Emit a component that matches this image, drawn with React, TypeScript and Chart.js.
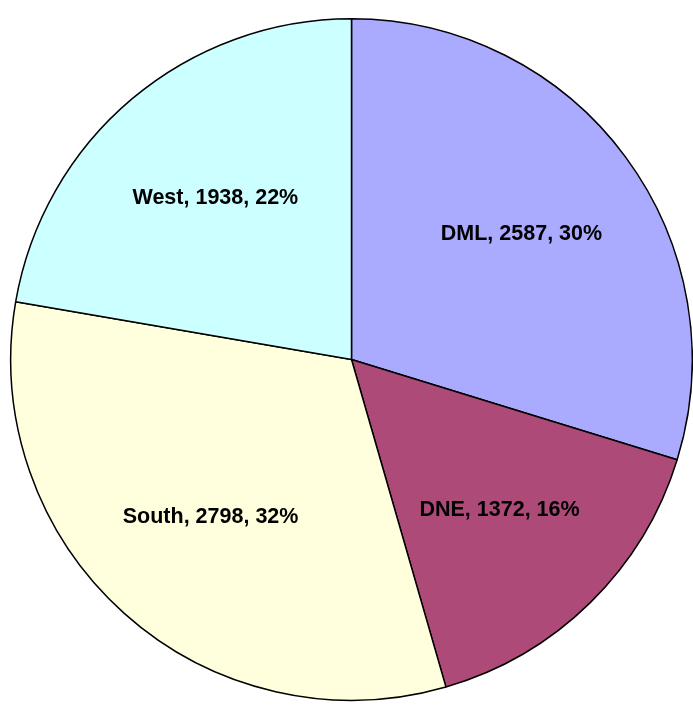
import React, { useEffect, useRef } from "react";
import { Chart, registerables } from "chart.js";

Chart.register(...registerables);

const categories = ["DML", "DNE", "South", "West"];
const values = [2587, 1372, 2798, 1938];
const percentLabels = ["30%", "16%", "32%", "22%"];
const colors = ["#AAAAFF", "#AD4A78", "#FFFFDD", "#CCFFFF"];

const labelPlugin = {
  id: "sliceLabels",
  afterDatasetsDraw(chart: any) {
    const ctx = chart.ctx;
    const meta = chart.getDatasetMeta(0);
    ctx.save();
    ctx.font = "bold 21.5px 'Liberation Sans', Arial, sans-serif";
    ctx.fillStyle = "#000000";
    ctx.textAlign = "center";
    ctx.textBaseline = "middle";
    meta.data.forEach((arc: any, i: number) => {
      const { x, y, startAngle, endAngle, outerRadius } = arc.getProps(
        ["x", "y", "startAngle", "endAngle", "outerRadius"],
        true
      );
      const mid = (startAngle + endAngle) / 2;
      const r = outerRadius * 0.62;
      const text = `${categories[i]}, ${values[i]}, ${percentLabels[i]}`;
      ctx.fillText(text, x + Math.cos(mid) * r, y + Math.sin(mid) * r);
    });
    ctx.restore();
  },
};

export default function App() {
  const ref = useRef<HTMLCanvasElement | null>(null);
  useEffect(() => {
    if (!ref.current) return;
    const chart = new Chart(ref.current, {
      type: "pie",
      data: {
        labels: categories,
        datasets: [
          {
            data: values,
            backgroundColor: colors,
            borderColor: "#000000",
            borderWidth: 1.5,
          },
        ],
      },
      options: {
        responsive: false,
        animation: false,
        layout: { padding: { left: 10, right: 0, top: 17, bottom: 7 } },
        plugins: {
          legend: { display: false },
          tooltip: { enabled: false },
        },
      },
      plugins: [labelPlugin],
    });
    return () => chart.destroy();
  }, []);
  return (
    <div style={{ position: "fixed", left: 0, top: 0, width: 693, height: 709, background: "#ffffff" }}>
      <canvas ref={ref} width={693} height={709} style={{ display: "block" }} />
    </div>
  );
}
